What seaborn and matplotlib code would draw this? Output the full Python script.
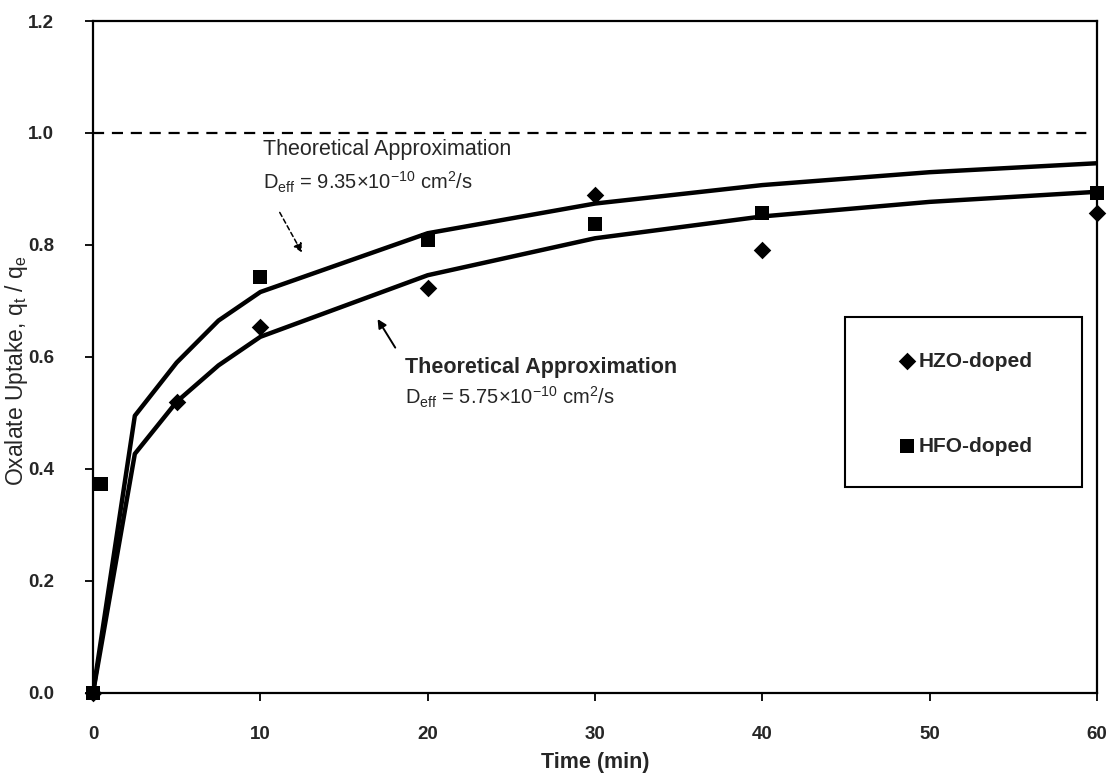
import matplotlib
matplotlib.use("Agg")
import matplotlib.pyplot as plt
import matplotlib.patches as mpatches
import numpy as np
import pandas as pd
import seaborn as sns

# Measured uptake (fraction of equilibrium) versus contact time
time_hzo = [0, 5, 10, 20, 30, 40, 60]
uptake_hzo = [0.0, 0.52, 0.654, 0.724, 0.89, 0.791, 0.857]

time_hfo = [0, 0.5, 10, 20, 30, 40, 60]
uptake_hfo = [0.0, 0.373, 0.743, 0.809, 0.838, 0.858, 0.892]

# Diffusion-model curves
model_time = [0, 2.5, 5, 7.5, 10, 20, 30, 40, 50, 60]
model_fast = [0.0, 0.495, 0.59, 0.665, 0.716, 0.821, 0.874, 0.907, 0.93, 0.946]
model_slow = [0.0, 0.427, 0.52, 0.585, 0.636, 0.746, 0.812, 0.851, 0.877, 0.895]

x_ticks = [0, 10, 20, 30, 40, 50, 60]
y_ticks = [0.0, 0.2, 0.4, 0.6, 0.8, 1.0, 1.2]

sns.set_theme(style="white")
plt.rcParams["font.family"] = ["Liberation Sans", "DejaVu Sans"]
plt.rcParams["mathtext.fontset"] = "custom"
plt.rcParams["mathtext.rm"] = "Liberation Sans"
plt.rcParams["mathtext.it"] = "Liberation Sans"

fig = plt.figure(figsize=(11.11, 7.78), dpi=100)
ax = fig.add_axes([0.0837, 0.1093, 0.9037, 0.8637])

df_model = pd.DataFrame({
    "t": model_time * 2,
    "q": model_fast + model_slow,
    "curve": ["fast"] * len(model_time) + ["slow"] * len(model_time),
})
sns.lineplot(data=df_model, x="t", y="q", units="curve", estimator=None,
             color="black", lw=3.2, ax=ax, legend=False, zorder=3)

# Equilibrium reference line
ax.plot([0, 59.5], [1.0, 1.0], color="black", lw=1.6, ls=(0, (5, 3.5)), zorder=2)

df_hzo = pd.DataFrame({"t": time_hzo, "q": uptake_hzo})
df_hfo = pd.DataFrame({"t": time_hfo, "q": uptake_hfo})
sns.scatterplot(data=df_hzo, x="t", y="q", marker="D", s=80, color="black",
                edgecolor="black", linewidth=0, ax=ax, label="HZO-doped", zorder=4)
sns.scatterplot(data=df_hfo, x="t", y="q", marker="s", s=100, color="black",
                edgecolor="black", linewidth=0, ax=ax, label="HFO-doped", zorder=4)
for coll in ax.collections:
    coll.set_clip_on(False)

ax.set_xlim(0, 60)
ax.set_ylim(0, 1.2)
ax.set_xticks(x_ticks)
ax.set_yticks(y_ticks)
ax.set_xticklabels([str(v) for v in x_ticks], fontsize=13.5, fontweight="bold")
ax.set_yticklabels([f"{v:.1f}" for v in y_ticks], fontsize=13.5, fontweight="bold")
ax.tick_params(axis="x", direction="out", length=6, width=1.3, color="black",
               bottom=True, pad=18)
ax.tick_params(axis="y", direction="out", length=6, width=1.3, color="black",
               left=True, pad=22)

for s in ax.spines.values():
    s.set_visible(True)
    s.set_color("black")
    s.set_linewidth(1.6)

ax.set_xlabel("Time (min)", fontsize=15.5, fontweight="bold", labelpad=6)
ax.set_ylabel(r"Oxalate Uptake, q$_{\rm t}$ / q$_{\rm e}$", fontsize=16.5)
ax.yaxis.set_label_coords(-0.063, 0.48)

# Model annotations
ax.text(10.16, 0.971, "Theoretical Approximation", fontsize=15.5, va="center", ha="left")
ax.text(10.16, 0.9125, r"D$_{\rm eff}$ = 9.35×10$^{-10}$ cm$^{2}$/s", fontsize=14.5,
        va="center", ha="left")
ax.annotate("", xy=(12.57, 0.782), xytext=(11.08, 0.8625),
            arrowprops=dict(arrowstyle="-|>", color="black", lw=1.1, ls=(0, (3, 2)),
                            mutation_scale=13))

ax.text(18.65, 0.582, "Theoretical Approximation", fontsize=15.5, va="center", ha="left",
        fontweight="bold")
ax.text(18.65, 0.527, r"D$_{\rm eff}$ = 5.75×10$^{-10}$ cm$^{2}$/s", fontsize=14.5,
        va="center", ha="left")
ax.annotate("", xy=(16.92, 0.672), xytext=(18.15, 0.6125),
            arrowprops=dict(arrowstyle="-|>", color="black", lw=1.4, mutation_scale=13))

# Legend in a separate framed box
box = mpatches.Rectangle((0.749, 0.3065), 0.236, 0.253, transform=ax.transAxes,
                         fill=True, facecolor="white", edgecolor="black", lw=1.5, zorder=5)
ax.add_patch(box)
leg = ax.legend(loc="upper left", bbox_to_anchor=(0.795, 0.523), frameon=False,
                borderpad=0, handlelength=0.5, handletextpad=0.3, labelspacing=3.15,
                prop={"size": 15, "weight": "bold"})
leg.set_zorder(6)

fig.savefig("out.png", dpi=100)
